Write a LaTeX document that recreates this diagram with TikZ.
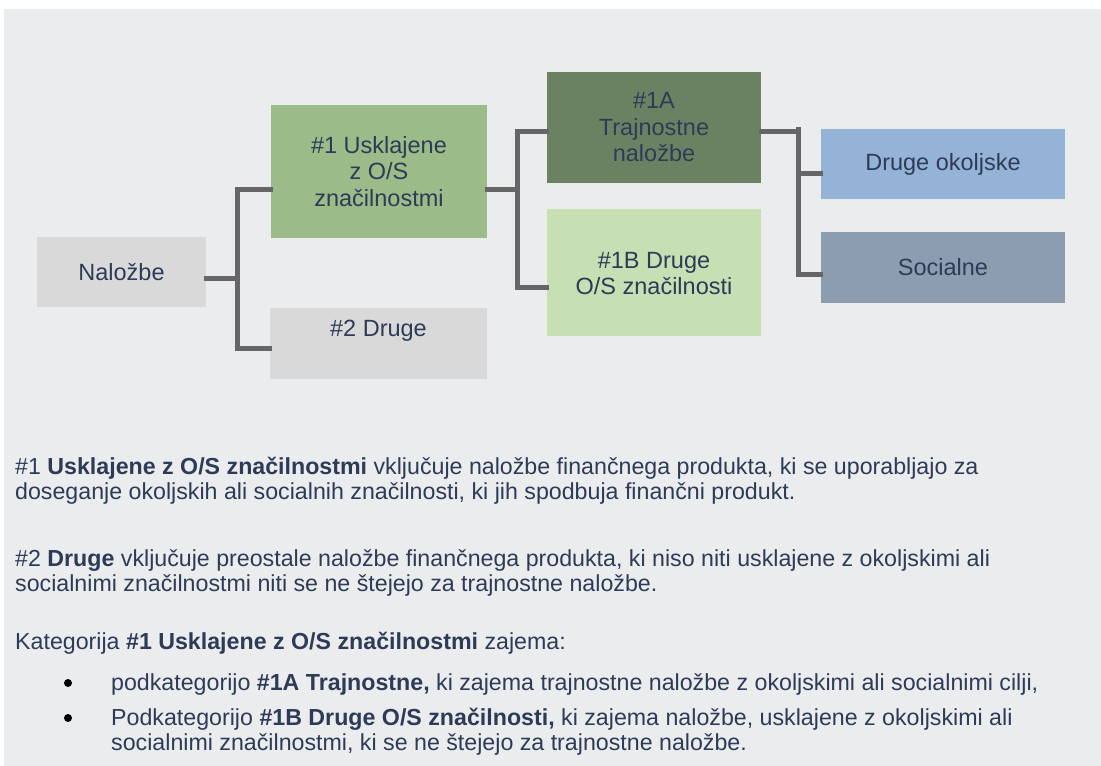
\documentclass[tikz,border=0pt]{standalone}
\usepackage{fontspec}
\setmainfont{Liberation Sans}
\definecolor{bgc}{HTML}{EBECEE}
\definecolor{txt}{HTML}{2E3B57}
\definecolor{greyb}{HTML}{D9D9D9}
\definecolor{greenb}{HTML}{9BBB89}
\definecolor{darkg}{HTML}{6B8262}
\definecolor{lightg}{HTML}{C6E0B4}
\definecolor{blueb}{HTML}{95B3D7}
\definecolor{slateb}{HTML}{8B9DAF}
\definecolor{connc}{HTML}{666666}
\begin{document}
\begin{tikzpicture}[x=1pt,y=-1pt,
  box/.style={rectangle, inner sep=0pt, align=center, text=txt,
    font=\fontsize{23.5}{26.5}\selectfont},
  conn/.style={draw=connc, line width=5pt, line cap=rect},
  para/.style={anchor=base west, inner sep=0pt, text=txt,
    font=\fontsize{23.2}{25.5}\selectfont},
  bul/.style={circle, fill=black, inner sep=0pt, minimum size=8pt}]
\useasboundingbox (0,0) rectangle (1101,766);
\fill[bgc] (4,9) rectangle (1101,766);

% boxes
\node[box, fill=greyb, minimum width=169pt, minimum height=70pt] (nal) at (121.5,272) {Naložbe};
\node[box, fill=greenb, minimum width=216pt, minimum height=133pt] (u1) at (379,171.5) {\#1 Usklajene\\z O/S\\značilnostmi};
\node[box, fill=greyb, minimum width=217pt, minimum height=71pt] (d2) at (378.5,343.5) {};
\node[box, anchor=center] (d2t) at (378.5,331) {\#2 Druge};
\node[box, fill=darkg, minimum width=214pt, minimum height=111pt] (a1) at (654,127.5) {\#1A\\Trajnostne\\naložbe};
\node[box, fill=lightg, minimum width=214pt, minimum height=127pt] (b1) at (654,272.5) {};
\node[box] (b1t) at (654,273.5) {\#1B Druge\\O/S značilnosti};
\node[box, fill=blueb, minimum width=244pt, minimum height=70pt] (ok) at (943,164) {Druge okoljske};
\node[box, fill=slateb, minimum width=244pt, minimum height=71pt] (so) at (943,267.5) {Socialne};

% connectors
\coordinate (j1) at (237,278);
\coordinate (j1t) at (237,189);
\coordinate (j1b) at (237,348);
\draw[conn] (nal.east |- j1) -- (j1);
\draw[conn] (j1t) -- (j1b);
\draw[conn] (j1t) -- (j1t -| u1.west);
\draw[conn] (j1b) -- (j1b -| d2.west);

\coordinate (j2) at (517,189);
\coordinate (j2t) at (517,131);
\coordinate (j2b) at (517,287);
\draw[conn] (u1.east |- j2) -- (j2);
\draw[conn] (j2t) -- (j2b);
\draw[conn] (j2t) -- (j2t -| a1.west);
\draw[conn] (j2b) -- (j2b -| b1.west);

\coordinate (j3) at (796,131);
\coordinate (j3t) at (798.5,129);
\coordinate (j3m) at (798.5,173);
\coordinate (j3b) at (798.5,274);
\draw[conn] (a1.east |- j3) -- (j3);
\draw[conn] (j3t) -- (j3b);
\draw[conn] (j3m) -- (j3m -| ok.west);
\draw[conn] (j3b) -- (j3b -| so.west);

% text
\node[para] (p1a) at (15,474) {\#1 \textbf{Usklajene z O/S značilnostmi} vključuje naložbe finančnega produkta, ki se uporabljajo za};
\node[para] (p1b) at (15,499.5) {doseganje okoljskih ali socialnih značilnosti, ki jih spodbuja finančni produkt.};
\node[para] (p2a) at (15,566) {\#2 \textbf{Druge} vključuje preostale naložbe finančnega produkta, ki niso niti usklajene z okoljskimi ali};
\node[para] (p2b) at (15,591.5) {socialnimi značilnostmi niti se ne štejejo za trajnostne naložbe.};
\node[para] (p3) at (15,649) {Kategorija \textbf{\#1 Usklajene z O/S značilnostmi} zajema:};
\node[bul] (d1) at (68,683) {};
\node[para] (l1) at (111,690) {podkategorijo \textbf{\#1A Trajnostne,} ki zajema trajnostne naložbe z okoljskimi ali socialnimi cilji,};
\node[bul] (d2b) at (68,718) {};
\node[para] (l2a) at (111,725) {Podkategorijo \textbf{\#1B Druge O/S značilnosti,} ki zajema naložbe, usklajene z okoljskimi ali};
\node[para] (l2b) at (111,750) {socialnimi značilnostmi, ki se ne štejejo za trajnostne naložbe.};
\end{tikzpicture}
\end{document}
